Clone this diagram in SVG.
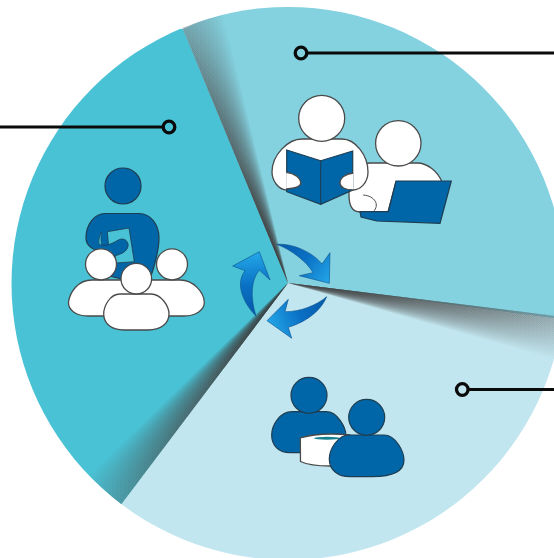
<svg xmlns="http://www.w3.org/2000/svg" width="554" height="558" viewBox="0 0 554 558">
<defs>
<style>
.blue{fill:#0066a8;stroke:#1f3d50;stroke-width:1.2}
.white{fill:#fff;stroke:#4a4a4a;stroke-width:1.3}
.lead{fill:none;stroke:#0a0a0a;stroke-width:3}
.dot{fill:none;stroke:#0a0a0a;stroke-width:3.3}
.w{fill:url(#fade)}
.arrow{stroke:#0b4f8c;stroke-width:.6}
</style>
<clipPath id="disc"><circle cx="288" cy="283.5" r="276.5"/></clipPath>
<radialGradient id="fade" gradientUnits="userSpaceOnUse" cx="0" cy="0" r="290">
<stop offset="0" stop-color="#333" stop-opacity=".16"/>
<stop offset=".45" stop-color="#444" stop-opacity=".075"/>
<stop offset="1" stop-color="#555" stop-opacity=".02"/>
</radialGradient>
<g id="wedges">
<polygon class="w" points="0,0 320,0 320,2.8"/><polygon class="w" points="0,0 320,0 320,5.6"/><polygon class="w" points="0,0 320,0 320,8.4"/>
<polygon class="w" points="0,0 320,0 320,11.2"/><polygon class="w" points="0,0 320,0 320,14"/><polygon class="w" points="0,0 320,0 320,16.8"/>
<polygon class="w" points="0,0 320,0 320,19.5"/><polygon class="w" points="0,0 320,0 320,22.3"/><polygon class="w" points="0,0 320,0 320,25.1"/>
<polygon class="w" points="0,0 320,0 320,27.9"/><polygon class="w" points="0,0 320,0 320,30.7"/><polygon class="w" points="0,0 320,0 320,33.5"/>
<polygon class="w" points="0,0 320,0 320,36.2"/><polygon class="w" points="0,0 320,0 320,39"/><polygon class="w" points="0,0 320,0 320,41.8"/>
<polygon class="w" points="0,0 320,0 320,44.5"/><polygon class="w" points="0,0 320,0 320,47.3"/><polygon class="w" points="0,0 320,0 320,50"/>
</g>
<linearGradient id="a1" gradientUnits="userSpaceOnUse" x1="277" y1="244" x2="328" y2="282"><stop offset="0" stop-color="#0758a8"/><stop offset=".5" stop-color="#0a70c4"/><stop offset="1" stop-color="#22a4e6"/></linearGradient>
<linearGradient id="a2" gradientUnits="userSpaceOnUse" x1="327" y1="297" x2="268" y2="320"><stop offset="0" stop-color="#0758a8"/><stop offset=".5" stop-color="#0a70c4"/><stop offset="1" stop-color="#22a4e6"/></linearGradient>
<linearGradient id="a3" gradientUnits="userSpaceOnUse" x1="256" y1="316" x2="250" y2="255"><stop offset="0" stop-color="#0758a8"/><stop offset=".5" stop-color="#0a70c4"/><stop offset="1" stop-color="#22a4e6"/></linearGradient>
</defs>
<g id="pie" clip-path="url(#disc)">
<path d="M288 283L183 29L288 -20L580 -20L580 322Z" fill="#84d2e0"/>
<path d="M288 283L580 322L580 580L100 580L122 503.5Z" fill="#c2e6ef"/>
<path d="M288 283L122 503.5L0 580L-20 0L183 29Z" fill="#49c2d5"/>
<use href="#wedges" transform="translate(288 283) rotate(-112.5)"/>
<use href="#wedges" transform="translate(288 283) rotate(7)"/>
<use href="#wedges" transform="translate(288 283) rotate(127)"/>
</g>
<g id="connectors">
<path class="lead" d="M0 127H163"/><circle class="dot" cx="169" cy="127" r="5.8"/>
<path class="lead" d="M307 53H554"/><circle class="dot" cx="301" cy="53" r="5.8"/>
<path class="lead" d="M468 389.5H554"/><circle class="dot" cx="462.3" cy="389.5" r="5.8"/>
</g>
<g id="arrows">
<path class="arrow" fill="url(#a1)" d="M276.7 244.3C297 243 316 256 322 264L330 252.7L329.3 283.3L299.3 275.7L313 272.7C307 262 292 250 276.7 244.3Z"/>
<path class="arrow" fill="url(#a2)" d="M326.7 296.7C320 313 303 323 288.3 327.3L291.7 338.3L267 320.7L288.3 299.3L285 311.7C300 312 317 305 326.7 296.7Z"/>
<path class="arrow" fill="url(#a3)" d="M256 316C245 305 234 285 245 270.7L232.7 266L259.3 251.7L270 280L259.3 270C251 280 250 297 256 316Z"/>
</g>
<g id="teacher-group">
<circle class="blue" cx="123" cy="186" r="18"/>
<path class="blue" d="M105 213.5H139C151 213.5 159 225 159 238C159 252 154 268 148 285L105 275L99 250C92 250 86 245 86 238C86 225 94 213.5 105 213.5Z"/>
<path d="M107.3 231.7L129 228L134.3 261.7L116 263L109 250Z" fill="#49c2d5" stroke="#1f3d50" stroke-width=".8"/>
<path d="M101.7 231.7C99 237 98.3 241.700 99.3 244.3L101.7 245C100.7 240 100.7 236 101.7 231.7Z" fill="#49c2d5" stroke="#1f3d50" stroke-width=".6"/>
<path fill="#0066a8" stroke="#1f3d50" stroke-width=".8" d="M101.7 245C108 246 113 243 118.3 240C125 236.5 130 243 127.5 248C125 253 120 254 115 256L116.5 266L104 266"/>
<path class="white" d="M92 280H132V316H88C76 316 68 310 68.5 302C70 292 78 280 92 280Z"/>
<circle class="white" cx="101" cy="264.3" r="15.5"/>
<path class="white" d="M142 280H180C194 280 204 293 204.3 302C204.5 310 196 316 184 316H142Z"/>
<circle class="white" cx="172" cy="264.3" r="15.5"/>
<path class="white" d="M120 294H151C161 294 169 306 169 314C169 324 160 330 148 330H124C112 330 103.7 324 103.7 314C103.7 306 110 294 120 294Z"/>
<circle class="white" cx="136.3" cy="278.7" r="15.3"/>
</g>
<g id="readers-group">
<path class="white" d="M370 163H417C428 163 438 172 442 182L396 182L388 212H360C352 212 349 205 349 195L349 175C355 167 362 163 370 163Z"/>
<path d="M363.3 195C375 196 380 205 373.3 211.7" fill="none" stroke="#4a4a4a"/>
<path class="blue" d="M396 181H451.3L440 223.3L376.7 221L361 217L360 211.7L388.3 211.7Z"/>
<circle class="white" cx="398.3" cy="143.3" r="22.7"/>
<path class="white" d="M302 139H342C355 139 368 155 368 172C368 183 360 190 353 190H287C278 190 272 180 272 172C272 155 288 139 302 139Z"/>
<circle class="white" cx="321.700" cy="118.3" r="23"/>
<path class="blue" d="M286.7 150L320.7 160.7L352.7 151V190L320.7 204.3L286.7 191.7Z"/>
<path d="M320.7 160.7V204.3" fill="none" stroke="#1f3d50"/>
<path class="white" d="M286.2 172.3C295 173.3 300.7 178.3 300.7 183.3C300.7 186.7 295 188.3 286.2 189"/>
<path class="white" d="M353.2 173C345 174 340 178 340 183C340 187 345 190 353.2 190"/>
</g>
<g id="discussion-group">
<path class="blue" d="M292 411.7H326C338 411.7 346 428 346 436C346 448 332 452.7 312 452.7H290C278 452.7 271.7 445 271.7 435C271.7 425 280 411.7 292 411.7Z"/>
<circle class="blue" cx="309" cy="395.3" r="18"/>
<path class="white" d="M300.3 438C315 433.5 335 433.5 350 435V466H330C318 466 308 465 300.5 461.5Z"/>
<ellipse cx="327" cy="438.3" rx="13" ry="1.5" fill="#17808f"/>
<path class="blue" d="M349 435H384C396 435 404 452 404 460C404 472 392 476.7 372 476.7H350C338 476.7 329.3 470 329.3 459C329.3 449 338 435 349 435Z"/>
<circle class="blue" cx="366.7" cy="417.3" r="18"/>
</g>
</svg>
